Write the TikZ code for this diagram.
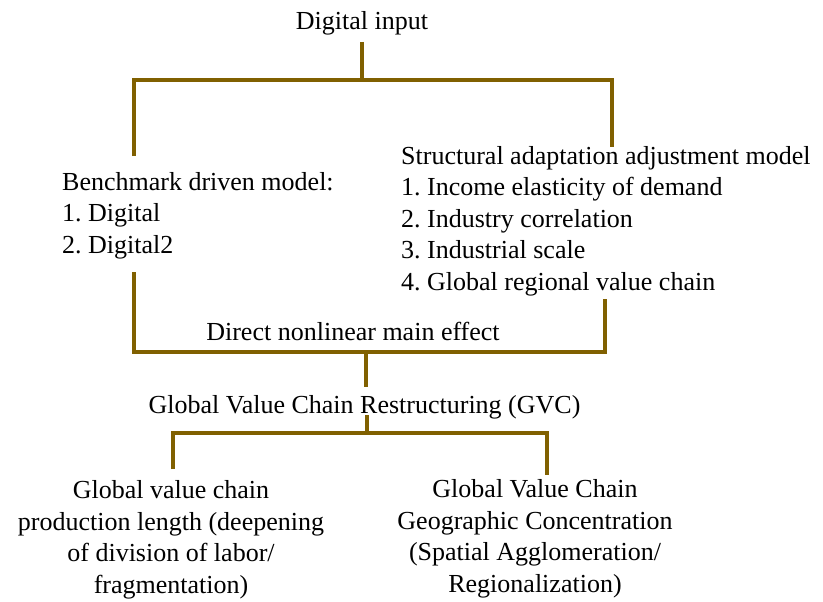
\documentclass[tikz,border=0pt]{standalone}
\usepackage{fontspec}
\setmainfont{Liberation Serif}
\frenchspacing
\definecolor{bracket}{HTML}{806000}
\begin{document}
\begin{tikzpicture}[x=1pt,y=-1pt,
  lbl/.style={inner sep=0pt, font=\fontsize{26}{31.5}\selectfont},
  link/.style={draw=bracket, line width=4pt, line join=miter}]
\useasboundingbox (0,0) rectangle (823,602);

% texts (multi-line nodes are placed by the baseline of their last line)
\node[lbl, anchor=base] (input) at (362,30) {Digital input};
\node[lbl, anchor=base west, align=left] (bench) at (62,253)
  {Benchmark driven model:\\1. Digital\\2. Digital2};
\node[lbl, anchor=base west, align=left] (struct) at (401,290)
  {Structural adaptation adjustment model\\1. Income elasticity of demand\\2. Industry correlation\\3. Industrial scale\\4. Global regional value chain};
\node[lbl, anchor=base] (direct) at (353,340) {Direct nonlinear main effect};
\node[lbl, anchor=base] (gvc) at (364.5,413) {Global Value Chain Restructuring (GVC)};
\node[lbl, anchor=base, align=center] (length) at (171,593)
  {Global value chain\\production length (deepening\\of division of labor/\\fragmentation)};
\node[lbl, anchor=base, align=center] (geo) at (535,592)
  {Global Value Chain\\Geographic Concentration\\(Spatial Agglomeration/\\Regionalization)};

% bracket ends and junctions
\coordinate (inBot) at (362,42);
\coordinate (j1) at (362,80);
\coordinate (benchTop) at (134,156);
\coordinate (structTop) at (612,147);
\coordinate (benchBot) at (134,272);
\coordinate (structBot) at (605,299);
\coordinate (j2) at (366,352);
\coordinate (gvcTop) at (366,387);
\coordinate (gvcBot) at (367,415);
\coordinate (j3) at (367,433);
\coordinate (lenTop) at (173,469);
\coordinate (geoTop) at (547,475);

% brackets
\draw[link] (inBot) -- (j1);
\draw[link] (benchTop) |- (j1) -| (structTop);
\draw[link] (benchBot) |- (j2) -| (structBot);
\draw[link] (j2) -- (gvcTop);
\draw[link] (gvcBot) -- (j3);
\draw[link] (lenTop) |- (j3) -| (geoTop);
\end{tikzpicture}
\end{document}
